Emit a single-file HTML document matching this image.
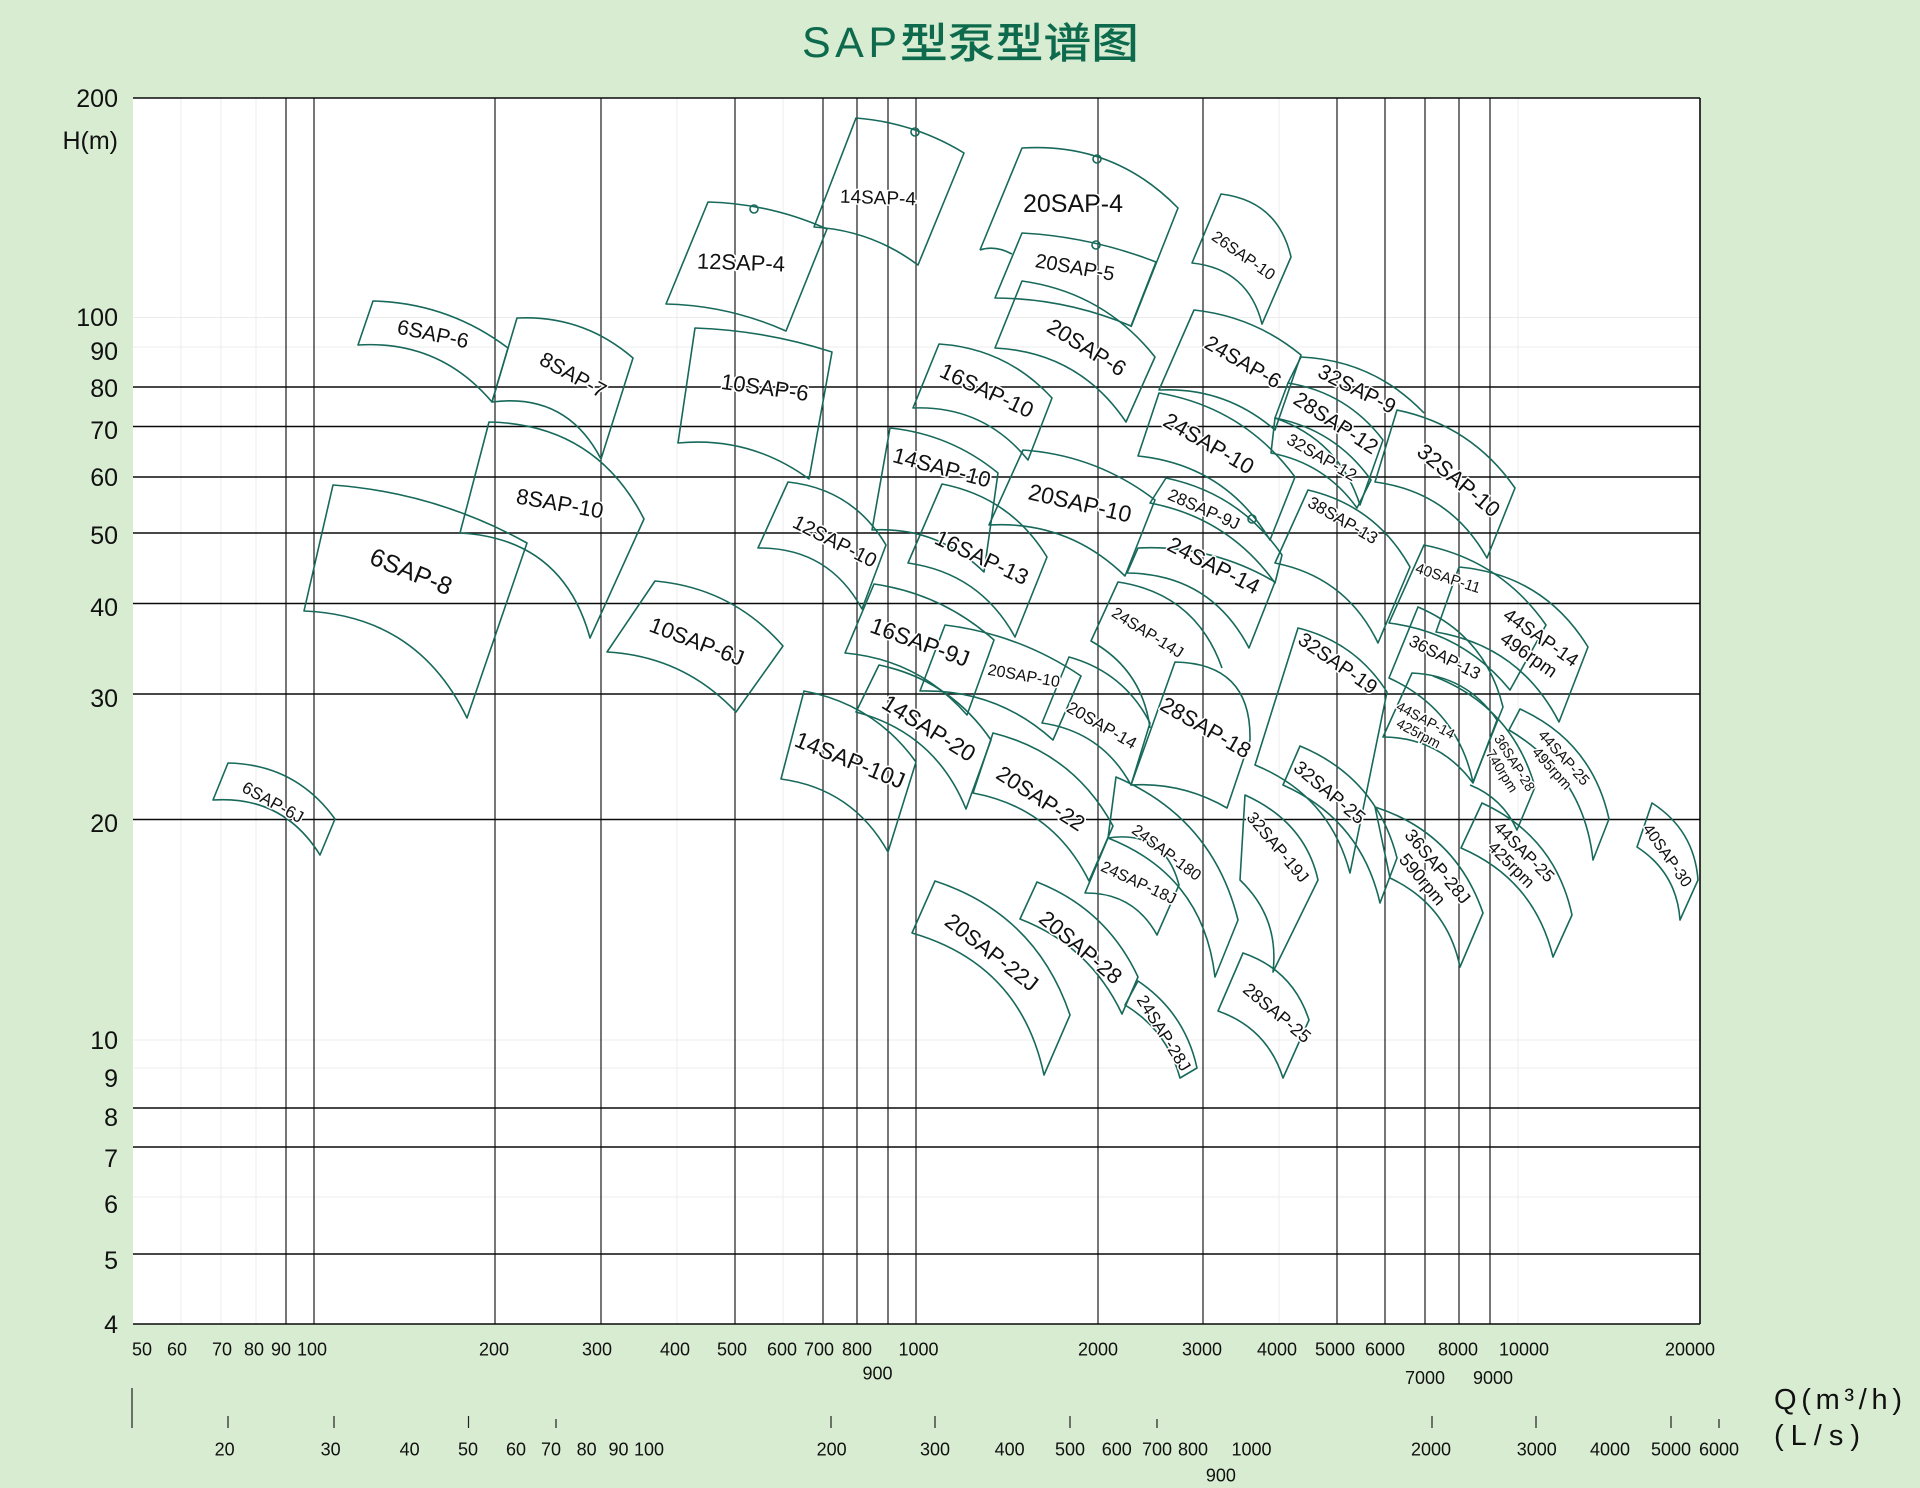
<!DOCTYPE html>
<html><head><meta charset="utf-8"><style>
html,body{margin:0;padding:0;background:#d8ecd2;}
svg{display:block;}
</style></head><body>
<svg xmlns="http://www.w3.org/2000/svg" width="1920" height="1488" viewBox="0 0 1920 1488">
<rect x="0" y="0" width="1920" height="1488" fill="#d8ecd2"/>
<rect x="133" y="98" width="1567" height="1226" fill="#ffffff"/>
<!-- title -->
<text x="802" y="57" font-family="Liberation Sans, sans-serif" font-size="43" fill="#0e6a4d" textLength="95">SAP</text>
<text x="900" y="58" font-family="Liberation Sans, 'Noto Sans CJK SC', sans-serif" font-size="42" font-weight="500" fill="#0e6a4d" textLength="239" lengthAdjust="spacingAndGlyphs">型泵型谱图</text>
<!-- faint grid -->
<g stroke="#ececec" stroke-width="1">
<line x1="133" y1="317.5" x2="1700" y2="317.5"/><line x1="133" y1="347" x2="1700" y2="347"/>
<line x1="133" y1="1040" x2="1700" y2="1040"/><line x1="133" y1="1068" x2="1700" y2="1068"/>
<line x1="133" y1="1197" x2="1700" y2="1197"/>
<line x1="181" y1="98" x2="181" y2="1324"/><line x1="221" y1="98" x2="221" y2="1324"/><line x1="256" y1="98" x2="256" y2="1324"/>
<line x1="677" y1="98" x2="677" y2="1324"/><line x1="783" y1="98" x2="783" y2="1324"/><line x1="1279" y1="98" x2="1279" y2="1324"/><line x1="1518" y1="98" x2="1518" y2="1324"/>
</g>
<!-- main grid -->
<g stroke="#080808" stroke-width="1.1">
<line x1="286" y1="98" x2="286" y2="1324"/><line x1="314" y1="98" x2="314" y2="1324"/>
<line x1="495" y1="98" x2="495" y2="1324"/><line x1="601" y1="98" x2="601" y2="1324"/>
<line x1="735" y1="98" x2="735" y2="1324"/><line x1="823" y1="98" x2="823" y2="1324"/>
<line x1="857" y1="98" x2="857" y2="1324"/><line x1="888" y1="98" x2="888" y2="1324"/>
<line x1="916" y1="98" x2="916" y2="1324"/><line x1="1098" y1="98" x2="1098" y2="1324"/>
<line x1="1203" y1="98" x2="1203" y2="1324"/><line x1="1337" y1="98" x2="1337" y2="1324"/>
<line x1="1385" y1="98" x2="1385" y2="1324"/><line x1="1425" y1="98" x2="1425" y2="1324"/>
<line x1="1459" y1="98" x2="1459" y2="1324"/><line x1="1490" y1="98" x2="1490" y2="1324"/>
</g>
<g stroke="#0a0a0a" stroke-width="1.6">
<line x1="133" y1="387" x2="1700" y2="387"/><line x1="133" y1="426.5" x2="1700" y2="426.5"/>
<line x1="133" y1="477" x2="1700" y2="477"/><line x1="133" y1="533" x2="1700" y2="533"/>
<line x1="133" y1="603.5" x2="1700" y2="603.5"/><line x1="133" y1="694" x2="1700" y2="694"/>
<line x1="133" y1="819.5" x2="1700" y2="819.5"/><line x1="133" y1="1108" x2="1700" y2="1108"/>
<line x1="133" y1="1147" x2="1700" y2="1147"/><line x1="133" y1="1254" x2="1700" y2="1254"/>
<line x1="133" y1="98" x2="1700" y2="98"/><line x1="133" y1="1324" x2="1700" y2="1324"/>
<line x1="1700" y1="98" x2="1700" y2="1324"/>
</g>
<!-- y labels -->
<g font-family="Liberation Sans, sans-serif" font-size="25" fill="#111" text-anchor="end">
<text x="118" y="107">200</text><text x="118" y="149">H(m)</text>
<text x="118" y="326">100</text><text x="118" y="360">90</text><text x="118" y="397">80</text>
<text x="118" y="439">70</text><text x="118" y="486">60</text><text x="118" y="544">50</text>
<text x="118" y="616">40</text><text x="118" y="707">30</text><text x="118" y="832">20</text>
<text x="118" y="1049">10</text><text x="118" y="1087">9</text><text x="118" y="1126">8</text>
<text x="118" y="1167">7</text><text x="118" y="1213">6</text><text x="118" y="1269">5</text>
<text x="118" y="1333">4</text>
</g>
<!-- x labels m3/h -->
<g font-family="Liberation Sans, sans-serif" font-size="18" fill="#111" text-anchor="middle">
<text x="142" y="1355.5">50</text><text x="177" y="1355.5">60</text><text x="222" y="1355.5">70</text>
<text x="254" y="1355.5">80</text><text x="281" y="1355.5">90</text><text x="312" y="1355.5">100</text>
<text x="494" y="1355.5">200</text><text x="597" y="1355.5">300</text><text x="675" y="1355.5">400</text>
<text x="732" y="1355.5">500</text><text x="782" y="1355.5">600</text><text x="819" y="1355.5">700</text>
<text x="857" y="1355.5">800</text><text x="918.5" y="1355.5">1000</text>
<text x="1098" y="1355.5">2000</text><text x="1202" y="1355.5">3000</text><text x="1277" y="1355.5">4000</text>
<text x="1335" y="1355.5">5000</text><text x="1385" y="1355.5">6000</text><text x="1458" y="1355.5">8000</text>
<text x="1524" y="1355.5">10000</text><text x="1690" y="1355.5">20000</text>
<text x="877.5" y="1379.5">900</text><text x="1425" y="1384">7000</text><text x="1493" y="1384">9000</text>
<!-- L/s -->
<text x="224.7" y="1455.5">20</text><text x="330.7" y="1455.5">30</text><text x="409.7" y="1455.5">40</text>
<text x="468" y="1455.5">50</text><text x="516" y="1455.5">60</text><text x="551" y="1455.5">70</text>
<text x="586.6" y="1455.5">80</text><text x="618.5" y="1455.5">90</text><text x="649" y="1455.5">100</text>
<text x="831.6" y="1455.5">200</text><text x="935" y="1455.5">300</text><text x="1009.6" y="1455.5">400</text>
<text x="1070" y="1455.5">500</text><text x="1116.8" y="1455.5">600</text><text x="1157" y="1455.5">700</text>
<text x="1193" y="1455.5">800</text><text x="1251.5" y="1455.5">1000</text><text x="1220.9" y="1481.5">900</text>
<text x="1431" y="1455.5">2000</text><text x="1536.8" y="1455.5">3000</text><text x="1610" y="1455.5">4000</text>
<text x="1671" y="1455.5">5000</text><text x="1719" y="1455.5">6000</text>
</g>
<g stroke="#222" stroke-width="1.2">
<line x1="132" y1="1388" x2="132" y2="1428"/>
<line x1="228" y1="1416" x2="228" y2="1428"/><line x1="334" y1="1416" x2="334" y2="1428"/>
<line x1="468.5" y1="1416" x2="468.5" y2="1428"/><line x1="556" y1="1419" x2="556" y2="1428"/>
<line x1="831" y1="1416" x2="831" y2="1428"/><line x1="935" y1="1416" x2="935" y2="1428"/>
<line x1="1070" y1="1416" x2="1070" y2="1428"/><line x1="1157" y1="1419" x2="1157" y2="1428"/>
<line x1="1432" y1="1416" x2="1432" y2="1428"/><line x1="1536" y1="1416" x2="1536" y2="1428"/>
<line x1="1671" y1="1416" x2="1671" y2="1428"/><line x1="1719" y1="1419" x2="1719" y2="1428"/>
</g>
<text x="1774" y="1409" font-family="Liberation Sans, sans-serif" font-size="29" fill="#111" textLength="128">Q(m³/h)</text>
<text x="1774" y="1445" font-family="Liberation Sans, sans-serif" font-size="29" fill="#111" textLength="86">(L/s)</text>
<!-- tiles -->
<g fill="none" stroke="#17695a" stroke-width="1.6" stroke-linejoin="round">
<path d="M228,763 Q295.5,764.3 335,819 L320,855 Q283,795.4 213,800 Z"/>
<path d="M373,301 Q448,302.9 508,348 L492,402 Q439.3,340 358,345 Z"/>
<path d="M517,318 Q583,314.8 633,358 L601,459 Q566.5,392.3 492,402 Z"/>
<path d="M489,422 Q595.6,424 644,519 L590,638 Q562.8,538.7 460,533 Z"/>
<path d="M333,485 Q436.4,492.7 527,543 L467,718 Q417.6,615.6 304,611 Z"/>
<path d="M695,328 Q765.2,330.4 832,352 L809,479 Q750.3,436.1 678,443 Z"/>
<path d="M655,581 Q732,587.9 783,646 L736,712 Q683.5,656.2 607,652 Z"/>
<path d="M708,202 Q770.2,203.6 827,229 L786,331 Q728.7,305.5 666,304 Z"/>
<path d="M856,118 Q914.2,122.5 964,153 L918,265 Q871.7,230.4 814,227 Z"/>
<path d="M788,482 Q852.75,489 886,545 L862,609 Q828.3,547.3 758,548 Z"/>
<path d="M890,428 Q950.75,434.3 998,473 L984,572 Q937.2,526.4 872,530 Z"/>
<path d="M939,344 Q1006.3,348.4 1052,398 L1028,460 Q983.5,405.25 913,408 Z"/>
<path d="M1023,450 Q1096.5,455.2 1155,500 L1125,576 Q1068.2,520.6 989,525 Z"/>
<path d="M942,484 Q1010.6,497.4 1047,557 L1015,637 Q980,573.25 908,563 Z"/>
<path d="M874,584 Q942.4,594 994,640 L967,715 Q918.4,659.6 845,653 Z"/>
<path d="M945,625 Q1019.1,634.2 1081,676 L1053,740 Q996.3,688.9 920,691 Z"/>
<path d="M879,665 Q950,680.1 991,740 L966,809 Q935.25,733 856,712 Z"/>
<path d="M804,691 Q874.2,704.1 916,762 L888,852 Q852.75,788.75 781,779 Z"/>
<path d="M993,733 Q1073.5,753.1 1113,826 L1089,881 Q1053,808 973,793 Z"/>
<path d="M935,881 Q1036,914.25 1070,1015 L1044,1075 Q1020.6,964.4 912,933 Z"/>
<path d="M1037,882 Q1106.5,909.3 1138,977 L1122,1014 Q1090,946.1 1020,919 Z"/>
<path d="M1138,981 Q1184.9,1012.7 1197,1068 L1180,1078 Q1167.1,1030.5 1125,1005 Z"/>
<path d="M1069,657 Q1124,672.2 1150,723 L1131,785 Q1102,731.75 1042,723 Z"/>
<path d="M1222,668 Q1195.8,593.8 1118,582 L1091,641 Q1142.25,669.75 1150,728"/>
<path d="M1175,662 Q1251.5,663.5 1250,740 L1227,808 Q1182.5,782.1 1131,785 Z"/>
<path d="M1116,777 Q1212.75,818 1238,920 L1215,977 Q1203.2,875.4 1108,838 Z"/>
<path d="M1108,838 Q1164.6,829.5 1179,885 L1157,935 Q1133.6,892.4 1085,893 Z"/>
<path d="M1138,548 Q1211.6,544.5 1275,582 L1249,648 Q1210.5,573.9 1127,573 Z"/>
<path d="M1166,478 Q1239.4,493.3 1282,555 L1275,583 Q1228.5,518 1150,503 Z"/>
<path d="M1159,393 Q1243.8,407.8 1295,477 L1270,540 Q1225,465 1138,456 Z"/>
<path d="M1194,310 Q1254.25,316.5 1301,355 L1275,430 Q1225,386.8 1159,390 Z"/>
<path d="M1288,383 L1301,357 Q1373.7,360.4 1424,413"/>
<path d="M1288,383 Q1346.9,392.5 1383,440 L1360,505 Q1339.25,440.25 1275,418 Z"/>
<path d="M1275,418 Q1335.4,429.8 1371,480 L1357,508 Q1325,463.3 1271,453 Z"/>
<path d="M1397,410 Q1471.6,425.4 1515,488 L1487,558 Q1450,492 1375,482 Z"/>
<path d="M1308,490 Q1376,506 1410,567 L1378,643 Q1346.5,577.25 1275,563 Z"/>
<path d="M1424,545 Q1501,560.6 1546,625 L1510,690 Q1462.9,632.3 1389,623 Z"/>
<path d="M1459,567 Q1543.5,574.75 1588,647 L1559,722 Q1520,646.25 1436,632 Z"/>
<path d="M1418,607 Q1485.5,635.75 1503,707 L1473,782 Q1457,709 1389,678 Z"/>
<path d="M1412,673 Q1466.25,675.25 1497,720 L1473,783 Q1439.5,737.5 1383,737 Z"/>
<path d="M1433,676 Q1511.75,706 1535,787 L1517,830 Q1502.5,798.1 1470,785"/>
<path d="M1520,709 Q1592,741.75 1609,819 L1593,860 Q1583.5,774 1509,730 Z"/>
<path d="M1652,803 Q1694.25,830 1698,880 L1680,920 Q1676.75,872.75 1637,847 Z"/>
<path d="M1482,803 Q1555,836.5 1572,915 L1553,957 Q1534.25,879.5 1461,848 Z"/>
<path d="M1375,807 Q1455.5,833 1483,913 L1460,967 Q1447.25,905 1390,878 Z"/>
<path d="M1300,746 Q1376.5,777.75 1397,858 L1380,903 Q1361,819.75 1283,785 Z"/>
<path d="M1298,628 Q1355.3,642.2 1387,692 L1350,873 Q1329.5,795.25 1255,765 Z"/>
<path d="M1245,795 Q1305.25,822.25 1318,880 L1273,972 Q1279.5,917.75 1240,880 Z"/>
<path d="M1243,953 Q1292.75,970 1309,1020 L1283,1078 Q1267.25,1028.25 1218,1011 Z"/>
<path d="M980,250 L1022,148 Q1113.8,142.1 1178,208 L1131,327 M980,250 Q995,245 1012,254"/>
<path d="M1022,233 Q1091.3,236.8 1156,262 L1131,326 Q1065.8,298.4 995,298 Z"/>
<path d="M1022,281 Q1103.7,292.4 1155,357 L1126,422 Q1079,352.25 995,348 Z"/>
<path d="M1221,194 Q1278,201 1291,257 L1262,324 Q1248.35,269 1192,263 Z"/>
<circle cx="754" cy="209" r="4"/><circle cx="915" cy="132" r="4"/>
<circle cx="1097" cy="159" r="4"/><circle cx="1096" cy="245" r="4"/>
<circle cx="1252" cy="519" r="4"/>
</g>
<!-- tile labels -->
<g font-family="Liberation Sans, sans-serif" fill="#111" text-anchor="middle" stroke="#fff" stroke-width="3" paint-order="stroke" stroke-linejoin="round">
<text transform="translate(273,802) rotate(29)" font-size="17" dy="6">6SAP-6J</text>
<text transform="translate(433,334) rotate(12)" font-size="21" dy="7">6SAP-6</text>
<text transform="translate(573,375) rotate(29)" font-size="21" dy="7">8SAP-7</text>
<text transform="translate(560,503) rotate(10)" font-size="22" dy="8">8SAP-10</text>
<text transform="translate(411,572) rotate(22)" font-size="25" dy="8">6SAP-8</text>
<text transform="translate(765,387) rotate(8)" font-size="22" dy="8">10SAP-6</text>
<text transform="translate(697,641) rotate(21)" font-size="22" dy="8">10SAP-6J</text>
<text transform="translate(741,262) rotate(2)" font-size="22" dy="8">12SAP-4</text>
<text transform="translate(878,197) rotate(2)" font-size="19" dy="7">14SAP-4</text>
<text transform="translate(835,541) rotate(27)" font-size="20" dy="7">12SAP-10</text>
<text transform="translate(942,467) rotate(15)" font-size="22" dy="8">14SAP-10</text>
<text transform="translate(987,390) rotate(25)" font-size="22" dy="8">16SAP-10</text>
<text transform="translate(1080,503) rotate(13)" font-size="23" dy="8">20SAP-10</text>
<text transform="translate(982,557) rotate(25)" font-size="22" dy="8">16SAP-13</text>
<text transform="translate(920,642) rotate(20)" font-size="23" dy="8">16SAP-9J</text>
<text transform="translate(1024,675) rotate(10)" font-size="16" dy="6">20SAP-10</text>
<text transform="translate(929,728) rotate(32)" font-size="23" dy="8">14SAP-20</text>
<text transform="translate(850,760) rotate(22)" font-size="23" dy="8">14SAP-10J</text>
<text transform="translate(1041,798) rotate(33)" font-size="22" dy="8">20SAP-22</text>
<text transform="translate(992,952) rotate(38)" font-size="22" dy="8">20SAP-22J</text>
<text transform="translate(1081,947) rotate(40)" font-size="22" dy="8">20SAP-28</text>
<text transform="translate(1164,1033) rotate(58)" font-size="17" dy="6">24SAP-28J</text>
<text transform="translate(1102,725) rotate(30)" font-size="17" dy="6">20SAP-14</text>
<text transform="translate(1148,632) rotate(32)" font-size="16" dy="6">24SAP-14J</text>
<text transform="translate(1206,727) rotate(30)" font-size="22" dy="8">28SAP-18</text>
<text transform="translate(1167,852) rotate(37)" font-size="16" dy="6">24SAP-180</text>
<text transform="translate(1139,882) rotate(25)" font-size="16" dy="6">24SAP-18J</text>
<text transform="translate(1214,565) rotate(27)" font-size="22" dy="8">24SAP-14</text>
<text transform="translate(1204,509) rotate(24)" font-size="17" dy="6">28SAP-9J</text>
<text transform="translate(1209,443) rotate(30)" font-size="22" dy="8">24SAP-10</text>
<text transform="translate(1243,362) rotate(30)" font-size="21" dy="7">24SAP-6</text>
<text transform="translate(1357,389) rotate(27)" font-size="21" dy="7">32SAP-9</text>
<text transform="translate(1336,423) rotate(33)" font-size="21" dy="7">28SAP-12</text>
<text transform="translate(1322,457) rotate(30)" font-size="17" dy="6">32SAP-12</text>
<text transform="translate(1459,480) rotate(40)" font-size="22" dy="8">32SAP-10</text>
<text transform="translate(1343,520) rotate(30)" font-size="17" dy="6">38SAP-13</text>
<text transform="translate(1448,578) rotate(18)" font-size="15" dy="5">40SAP-11</text>
<text transform="translate(1535,646) rotate(35)" font-size="19"><tspan x="0" y="-4">44SAP-14</tspan><tspan x="0" y="17">496rpm</tspan></text>
<text transform="translate(1445,657) rotate(27)" font-size="17" dy="6">36SAP-13</text>
<text transform="translate(1422,727) rotate(28)" font-size="14"><tspan x="0" y="-3">44SAP-14</tspan><tspan x="0" y="12">425rpm</tspan></text>
<text transform="translate(1508,767) rotate(58)" font-size="14"><tspan x="0" y="-3">36SAP-28</tspan><tspan x="0" y="12">740rpm</tspan></text>
<text transform="translate(1558,763) rotate(48)" font-size="15"><tspan x="0" y="-3">44SAP-25</tspan><tspan x="0" y="13">495rpm</tspan></text>
<text transform="translate(1668,855) rotate(55)" font-size="16" dy="6">40SAP-30</text>
<text transform="translate(1518,858) rotate(45)" font-size="17"><tspan x="0" y="-3">44SAP-25</tspan><tspan x="0" y="15">425rpm</tspan></text>
<text transform="translate(1430,873) rotate(50)" font-size="18"><tspan x="0" y="-4">36SAP-28J</tspan><tspan x="0" y="16">590rpm</tspan></text>
<text transform="translate(1330,792) rotate(40)" font-size="19" dy="7">32SAP-25</text>
<text transform="translate(1338,663) rotate(35)" font-size="20" dy="7">32SAP-19</text>
<text transform="translate(1278,847) rotate(50)" font-size="17" dy="6">32SAP-19J</text>
<text transform="translate(1277,1013) rotate(40)" font-size="18" dy="6">28SAP-25</text>
<text transform="translate(1073,203)" font-size="25" dy="9">20SAP-4</text>
<text transform="translate(1075,267) rotate(10)" font-size="20" dy="7">20SAP-5</text>
<text transform="translate(1087,347) rotate(32)" font-size="22" dy="8">20SAP-6</text>
<text transform="translate(1244,255) rotate(35)" font-size="16" dy="6">26SAP-10</text>
</g>
</svg>
</body></html>
